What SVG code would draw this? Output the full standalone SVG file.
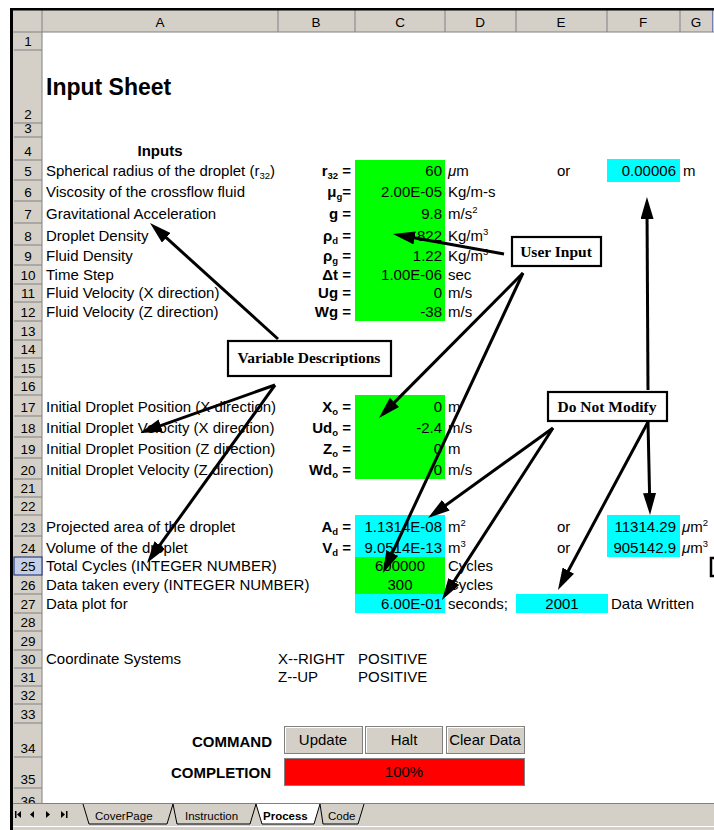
<svg xmlns="http://www.w3.org/2000/svg" width="714" height="830" viewBox="0 0 714 830">
<style>
.hd{fill:#d4d0c8}
.hl{stroke:#808080;stroke-width:1}
.hn{font-family:"Liberation Sans",Arial,sans-serif;font-size:13.5px;fill:#000;text-anchor:middle}
.t{font-family:"Liberation Sans",Arial,sans-serif;font-size:15px;fill:#000}
.b{font-weight:bold}
.e{text-anchor:end}
.m{text-anchor:middle}
.g{fill:#00ff00}
.c{fill:#00ffff}
.sup{font-size:9.5px}
.box{fill:#fff;stroke:#000;stroke-width:2.2}
.bt{font-family:"Liberation Serif","Times New Roman",serif;font-size:15.5px;font-weight:bold;fill:#000;text-anchor:middle}
.ar{stroke:#000;stroke-width:3;fill:none;marker-end:url(#ah)}
.btn{fill:#d4d0c8;stroke:#808080;stroke-width:1}
.tab{font-family:"Liberation Sans",Arial,sans-serif;font-size:11.5px;fill:#000}
</style>
<defs>
<marker id="ah" markerUnits="userSpaceOnUse" markerWidth="22" markerHeight="13" refX="12" refY="6.5" orient="auto">
<path d="M0,0 L22,6.5 L0,13 Z" fill="#000"/>
</marker>
</defs>
<rect width="714" height="830" fill="#fff"/>

<g id="sheet-frame">
<rect x="12" y="10" width="702" height="22" class="hd"/>
<rect x="12" y="10" width="30" height="793" class="hd"/>
<line x1="12" y1="32" x2="714" y2="32" class="hl"/>
<line x1="42" y1="10" x2="42" y2="803" class="hl"/>
<g class="hl">
<line x1="278" y1="10" x2="278" y2="32"/><line x1="355" y1="10" x2="355" y2="32"/><line x1="445" y1="10" x2="445" y2="32"/><line x1="516" y1="10" x2="516" y2="32"/><line x1="607" y1="10" x2="607" y2="32"/><line x1="680" y1="10" x2="680" y2="32"/>
</g>
<line x1="712.5" y1="10" x2="712.5" y2="32" stroke="#7080b0" stroke-width="1"/>
<text class="hn" x="160" y="27">A</text><text class="hn" x="316" y="27">B</text><text class="hn" x="400" y="27">C</text><text class="hn" x="480" y="27">D</text><text class="hn" x="561" y="27">E</text><text class="hn" x="643" y="27">F</text><text class="hn" x="696" y="27">G</text>
<rect x="14" y="557" width="28" height="18" fill="#c5cee6" stroke="#0a246a" stroke-width="1"/>
<g class="hl">
<line x1="14" y1="50" x2="42" y2="50"/><line x1="14" y1="123" x2="42" y2="123"/><line x1="14" y1="137" x2="42" y2="137"/><line x1="14" y1="160" x2="42" y2="160"/><line x1="14" y1="180" x2="42" y2="180"/><line x1="14" y1="201" x2="42" y2="201"/><line x1="14" y1="223" x2="42" y2="223"/><line x1="14" y1="245" x2="42" y2="245"/><line x1="14" y1="265" x2="42" y2="265"/><line x1="14" y1="284" x2="42" y2="284"/><line x1="14" y1="302" x2="42" y2="302"/><line x1="14" y1="321" x2="42" y2="321"/><line x1="14" y1="340" x2="42" y2="340"/><line x1="14" y1="358" x2="42" y2="358"/><line x1="14" y1="377" x2="42" y2="377"/><line x1="14" y1="395" x2="42" y2="395"/><line x1="14" y1="416" x2="42" y2="416"/><line x1="14" y1="437" x2="42" y2="437"/><line x1="14" y1="458" x2="42" y2="458"/><line x1="14" y1="479" x2="42" y2="479"/><line x1="14" y1="497" x2="42" y2="497"/><line x1="14" y1="515" x2="42" y2="515"/><line x1="14" y1="536" x2="42" y2="536"/><line x1="14" y1="594" x2="42" y2="594"/><line x1="14" y1="613" x2="42" y2="613"/><line x1="14" y1="631" x2="42" y2="631"/><line x1="14" y1="650" x2="42" y2="650"/><line x1="14" y1="668" x2="42" y2="668"/><line x1="14" y1="686" x2="42" y2="686"/><line x1="14" y1="704" x2="42" y2="704"/><line x1="14" y1="723" x2="42" y2="723"/><line x1="14" y1="757" x2="42" y2="757"/><line x1="14" y1="788" x2="42" y2="788"/>
</g>
<g class="hn">
<text x="28" y="46">1</text><text x="28" y="119">2</text><text x="28" y="133">3</text><text x="28" y="156">4</text><text x="28" y="176">5</text><text x="28" y="197">6</text><text x="28" y="219">7</text><text x="28" y="241">8</text><text x="28" y="261">9</text><text x="28" y="280">10</text><text x="28" y="298">11</text><text x="28" y="317">12</text><text x="28" y="336">13</text><text x="28" y="354">14</text><text x="28" y="373">15</text><text x="28" y="391">16</text><text x="28" y="412">17</text><text x="28" y="433">18</text><text x="28" y="454">19</text><text x="28" y="475">20</text><text x="28" y="493">21</text><text x="28" y="511">22</text><text x="28" y="532">23</text><text x="28" y="553">24</text><text x="28" y="571">25</text><text x="28" y="590">26</text><text x="28" y="609">27</text><text x="28" y="627">28</text><text x="28" y="646">29</text><text x="28" y="664">30</text><text x="28" y="682">31</text><text x="28" y="700">32</text><text x="28" y="719">33</text><text x="28" y="753">34</text><text x="28" y="784">35</text><text x="28" y="806">36</text>
</g>
<rect x="10" y="8" width="704" height="2.5" fill="#000"/>
<rect x="10" y="8" width="3" height="822" fill="#000"/>
</g>

<g id="cells">
<rect x="355" y="160" width="90" height="161" class="g"/>
<rect x="607" y="159" width="73" height="23" class="c"/>
<rect x="355" y="395" width="90" height="84" class="g"/>
<rect x="355" y="515" width="90" height="42" class="c"/>
<rect x="607" y="515" width="73" height="42" class="c"/>
<rect x="355" y="557" width="90" height="37" class="g"/>
<rect x="355" y="594" width="90" height="19" class="c"/>
<rect x="516" y="594" width="92" height="19" class="c"/>
</g>

<g id="title"><text x="46" y="95" font-family="'Liberation Sans',Arial,sans-serif" font-size="23px" font-weight="bold">Input Sheet</text></g>

<g id="labels" class="t">
<text class="b m" x="160" y="156">Inputs</text>
<text x="46" y="176">Spherical radius of the droplet (r<tspan class="sup" dy="3">32</tspan><tspan dy="-3">)</tspan></text>
<text x="46" y="197">Viscosity of the crossflow fluid</text>
<text x="46" y="219">Gravitational Acceleration</text>
<text x="46" y="241">Droplet Density</text>
<text x="46" y="261">Fluid Density</text>
<text x="46" y="280">Time Step</text>
<text x="46" y="298">Fluid Velocity (X direction)</text>
<text x="46" y="317">Fluid Velocity (Z direction)</text>
<text x="46" y="412">Initial Droplet Position (X direction)</text>
<text x="46" y="433">Initial Droplet Velocity (X direction)</text>
<text x="46" y="454">Initial Droplet Position (Z direction)</text>
<text x="46" y="475">Initial Droplet Velocity (Z direction)</text>
<text x="46" y="532">Projected area of the droplet</text>
<text x="46" y="553">Volume of the droplet</text>
<text x="46" y="571">Total Cycles (INTEGER NUMBER)</text>
<text x="46" y="590">Data taken every (INTEGER NUMBER)</text>
<text x="46" y="609">Data plot for</text>
<text x="46" y="664">Coordinate Systems</text>
<text x="278" y="664">X--RIGHT</text><text x="358" y="664">POSITIVE</text>
<text x="278" y="682">Z--UP</text><text x="358" y="682">POSITIVE</text>
</g>

<g id="symbols" class="t b e">
<text x="351" y="176">r<tspan class="sup" dy="3">32</tspan><tspan dy="-3"> =</tspan></text>
<text x="351" y="197">μ<tspan class="sup" dy="3">g</tspan><tspan dy="-3">=</tspan></text>
<text x="351" y="219">g =</text>
<text x="351" y="241">ρ<tspan class="sup" dy="3">d</tspan><tspan dy="-3"> =</tspan></text>
<text x="351" y="261">ρ<tspan class="sup" dy="3">g</tspan><tspan dy="-3"> =</tspan></text>
<text x="351" y="280">Δt =</text>
<text x="351" y="298">Ug =</text>
<text x="351" y="317">Wg =</text>
<text x="351" y="412">X<tspan class="sup" dy="3">o</tspan><tspan dy="-3"> =</tspan></text>
<text x="351" y="433">Ud<tspan class="sup" dy="3">o</tspan><tspan dy="-3"> =</tspan></text>
<text x="351" y="454">Z<tspan class="sup" dy="3">o</tspan><tspan dy="-3"> =</tspan></text>
<text x="351" y="475">Wd<tspan class="sup" dy="3">o</tspan><tspan dy="-3"> =</tspan></text>
<text x="351" y="532">A<tspan class="sup" dy="3">d</tspan><tspan dy="-3"> =</tspan></text>
<text x="351" y="553">V<tspan class="sup" dy="3">d</tspan><tspan dy="-3"> =</tspan></text>
</g>

<g id="values" class="t e">
<text x="442" y="176">60</text>
<text x="442" y="197">2.00E-05</text>
<text x="442" y="219">9.8</text>
<text x="442" y="241">822</text>
<text x="442" y="261">1.22</text>
<text x="442" y="280">1.00E-06</text>
<text x="442" y="298">0</text>
<text x="442" y="317">-38</text>
<text x="442" y="412">0</text>
<text x="442" y="433">-2.4</text>
<text x="442" y="454">0</text>
<text x="442" y="475">0</text>
<text x="442" y="532">1.1314E-08</text>
<text x="442" y="553">9.0514E-13</text>
<text class="m" x="400" y="571">600000</text>
<text class="m" x="400" y="590">300</text>
<text x="442" y="609">6.00E-01</text>
<text x="676" y="176">0.00006</text>
<text x="676" y="532">11314.29</text>
<text x="676" y="553">905142.9</text>
<text class="m" x="562" y="609">2001</text>
</g>

<g id="units" class="t">
<text x="448" y="176"><tspan font-style="italic">μ</tspan>m</text>
<text x="448" y="197">Kg/m-s</text>
<text x="448" y="219">m/s<tspan class="sup" dy="-6">2</tspan></text>
<text x="448" y="241">Kg/m<tspan class="sup" dy="-6">3</tspan></text>
<text x="448" y="261">Kg/m<tspan class="sup" dy="-6">3</tspan></text>
<text x="448" y="280">sec</text>
<text x="448" y="298">m/s</text>
<text x="448" y="317">m/s</text>
<text x="448" y="412">m</text>
<text x="448" y="433">m/s</text>
<text x="448" y="454">m</text>
<text x="448" y="475">m/s</text>
<text x="448" y="532">m<tspan class="sup" dy="-6">2</tspan></text>
<text x="448" y="553">m<tspan class="sup" dy="-6">3</tspan></text>
<text x="448" y="571">Cycles</text>
<text x="448" y="590">Cycles</text>
<text x="448" y="609">seconds;</text>
<text x="557" y="176">or</text>
<text x="557" y="532">or</text>
<text x="557" y="553">or</text>
<text x="683" y="176">m</text>
<text x="682" y="532"><tspan font-style="italic">μ</tspan>m<tspan class="sup" dy="-6">2</tspan></text>
<text x="682" y="553"><tspan font-style="italic">μ</tspan>m<tspan class="sup" dy="-6">3</tspan></text>
<text x="611" y="609">Data Written</text>
</g>
<path d="M714,558 H711 V576 H714" fill="none" stroke="#000" stroke-width="2.5"/>

<g id="controls">
<text class="t b e" x="272" y="747" font-size="14px">COMMAND</text>
<text class="t b e" x="271" y="778" font-size="14px">COMPLETION</text>
<g id="btn-update"><rect x="284.5" y="726.5" width="78" height="27" class="btn"/><path d="M285.5,752.5 V727.5 H361.5" stroke="#fff" fill="none"/><text class="t m" x="323" y="745" font-size="13.5px">Update</text></g>
<g id="btn-halt"><rect x="365.5" y="726.5" width="77" height="27" class="btn"/><path d="M366.5,752.5 V727.5 H441.5" stroke="#fff" fill="none"/><text class="t m" x="404" y="745" font-size="13.5px">Halt</text></g>
<g id="btn-clear"><rect x="446.5" y="726.5" width="78" height="27" class="btn"/><path d="M447.5,752.5 V727.5 H523.5" stroke="#fff" fill="none"/><text class="t m" x="485" y="745" font-size="13.5px">Clear Data</text></g>
<g id="progress"><rect x="284.5" y="758.5" width="240" height="27" fill="#ff0000" stroke="#808080"/><text class="t m" x="404" y="777" fill="#fff" font-size="13.5px">100%</text></g>
</g>

<g id="tabbar">
<rect x="13" y="803" width="701" height="27" fill="#d4d0c8"/>
<line x1="13" y1="803.5" x2="714" y2="803.5" stroke="#808080"/>
<line x1="13" y1="826.5" x2="714" y2="826.5" stroke="#fff"/>
<g fill="#000">
<rect x="15" y="811" width="1.5" height="7"/><path d="M21,811 L17,814.5 L21,818 Z"/>
<path d="M34,811 L30,814.5 L34,818 Z"/>
<path d="M46,811 L50,814.5 L46,818 Z"/>
<path d="M61,811 L65,814.5 L61,818 Z"/><rect x="66" y="811" width="1.5" height="7"/>
</g>
<polygon points="256,804 262,824 314,824 320,804" fill="#fff"/>
<g stroke="#000" stroke-width="1" fill="none">
<path d="M83,804 L89,824 L167,824 L173,804"/>
<path d="M173,804 L177,824 L250,824 L256,804"/>
<path d="M256,804 L262,824 L314,824 L320,804"/>
<path d="M320,804 L323,824 L358,824 L364,804"/>
</g>
<text class="tab" x="95" y="820">CoverPage</text>
<text class="tab" x="185" y="820">Instruction</text>
<text class="tab b" x="263" y="820">Process</text>
<text class="tab" x="328" y="820">Code</text>
</g>

<g id="callout-user-input"><rect x="512" y="237" width="89" height="29" class="box"/><text class="bt" x="556" y="257">User Input</text></g>
<g id="callout-variable-descriptions"><rect x="228" y="341" width="163" height="35" class="box"/><text class="bt" x="309" y="363">Variable Descriptions</text></g>
<g id="callout-do-not-modify"><rect x="548" y="392" width="119" height="29" class="box"/><text class="bt" x="607" y="412">Do Not Modify</text></g>

<g id="connectors">
<line class="ar" x1="504" y1="254" x2="402.8" y2="235.8"/>
<line class="ar" x1="523" y1="273" x2="386" y2="410.9"/>
<line class="ar" x1="523" y1="273" x2="387.2" y2="563.9"/>
<line class="ar" x1="278" y1="339" x2="157.4" y2="229.7"/>
<line class="ar" x1="275" y1="385" x2="149.4" y2="429.6"/>
<line class="ar" x1="275" y1="385" x2="152.8" y2="554.9"/>
<line class="ar" x1="648" y1="390" x2="647" y2="207"/>
<line class="ar" x1="648" y1="422" x2="649.8" y2="505"/>
<line class="ar" x1="648" y1="422" x2="562.7" y2="581.2"/>
<line class="ar" x1="553" y1="428" x2="436.1" y2="512.2"/>
<line class="ar" x1="553" y1="428" x2="447.4" y2="591.6"/>
</g>
</svg>
